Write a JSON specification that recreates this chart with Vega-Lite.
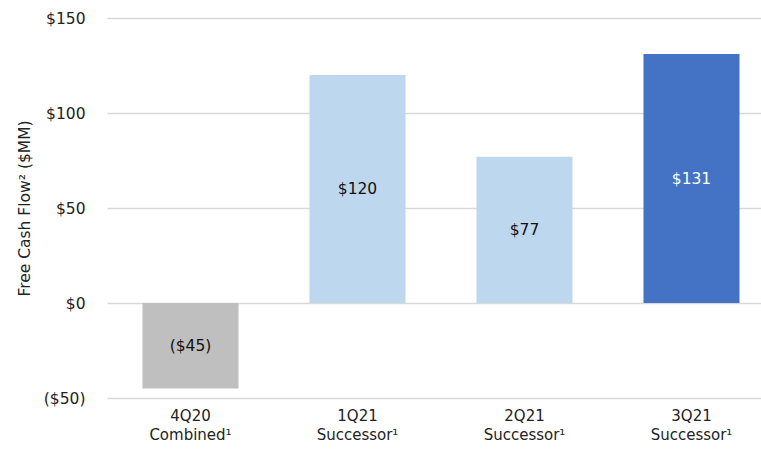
{
  "$schema": "https://vega.github.io/schema/vega-lite/v6.json",
  "width": 668,
  "height": 380,
  "autosize": "none",
  "padding": {"left": 107, "top": 18, "right": 0, "bottom": 51},
  "background": "white",
  "config": {"view": {"stroke": null}, "font": "DejaVu Sans"},
  "data": {
    "values": [
      {"period": "4Q20|Combined¹", "quarter": "4Q20", "value": -45, "label": "($45)"},
      {"period": "1Q21|Successor¹", "quarter": "1Q21", "value": 120, "label": "$120"},
      {"period": "2Q21|Successor¹", "quarter": "2Q21", "value": 77, "label": "$77"},
      {"period": "3Q21|Successor¹", "quarter": "3Q21", "value": 131, "label": "$131"}
    ]
  },
  "transform": [{"calculate": "datum.value / 2", "as": "mid"}],
  "encoding": {
    "x": {
      "field": "period",
      "type": "nominal",
      "sort": null,
      "scale": {"paddingInner": 0.425, "paddingOuter": 0.2125},
      "axis": {
        "title": null,
        "domain": false,
        "ticks": false,
        "grid": false,
        "labelAngle": 0,
        "labelExpr": "split(datum.value, '|')",
        "labelFontSize": 15,
        "labelColor": "#222",
        "labelPadding": 10,
        "labelLineHeight": 19
      }
    }
  },
  "layer": [
    {
      "mark": {"type": "bar"},
      "encoding": {
        "y": {
          "field": "value",
          "type": "quantitative",
          "scale": {"domain": [-50, 150], "nice": false, "zero": true},
          "axis": {
            "title": "Free Cash Flow² ($MM)",
            "titleFontSize": 15.5,
            "titleFontWeight": "normal",
            "titleColor": "#222",
            "titlePadding": 11,
            "values": [-50, 0, 50, 100, 150],
            "labelExpr": "datum.value < 0 ? '($' + abs(datum.value) + ')' : '$' + datum.value",
            "labelFontSize": 15.5,
            "labelColor": "#222",
            "labelPadding": 22,
            "domain": false,
            "ticks": false,
            "grid": true,
            "gridColor": "#d9d9d9",
            "gridWidth": 1.5
          }
        },
        "y2": {"datum": 0},
        "color": {
          "field": "quarter",
          "type": "nominal",
          "scale": {"domain": ["4Q20", "1Q21", "2Q21", "3Q21"], "range": ["#bfbfbf", "#bdd7ee", "#bdd7ee", "#4472c4"]},
          "legend": null
        }
      }
    },
    {
      "mark": {"type": "text", "fontSize": 15.5, "baseline": "middle", "align": "center"},
      "encoding": {
        "y": {"field": "mid", "type": "quantitative"},
        "text": {"field": "label"},
        "color": {
          "condition": {"test": "datum.quarter === '3Q21'", "value": "#ffffff"},
          "value": "#111111"
        }
      }
    }
  ]
}
